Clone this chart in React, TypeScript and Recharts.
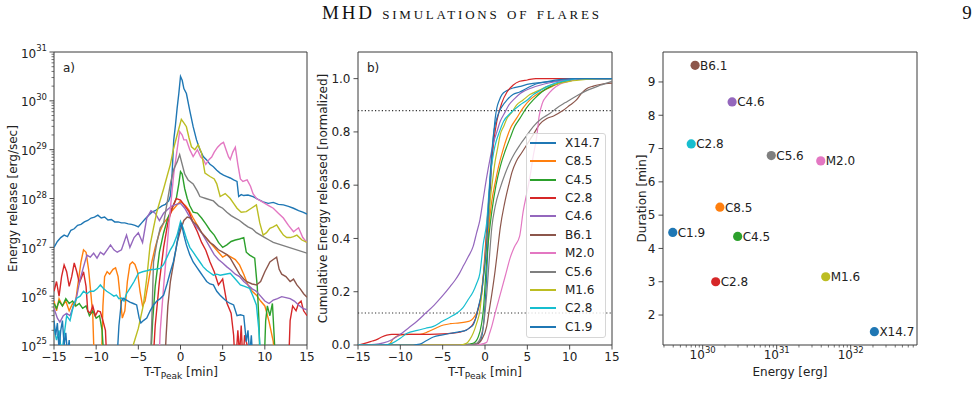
import React from 'react';
import {
  LineChart, Line, XAxis, YAxis, ReferenceArea, ReferenceLine, Legend,
  ScatterChart, Scatter,
} from 'recharts';

const FONT = '"DejaVu Sans", Verdana, sans-serif';
const AXIS = '#3a3a3a';
const TXT = '#222222';

// ---------- shared series identity ----------
const flareNames = ['X14.7', 'C8.5', 'C4.5', 'C2.8', 'C4.6', 'B6.1', 'M2.0', 'C5.6', 'M1.6', 'C2.8', 'C1.9'];
const palette = ['#1f77b4', '#ff7f0e', '#2ca02c', '#d62728', '#9467bd', '#8c564b', '#e377c2', '#7f7f7f', '#bcbd22', '#17becf', '#1f77b4'];

// ---------- panel a: energy release, [T-Tpeak min, log10(erg/s)] ----------
const releaseX147 = [[-15,27.0],[-14.6,27.12],[-14.2,27.2],[-13.8,27.25],[-13.4,27.22],[-13,27.35],[-12.6,27.38],[-12.2,27.45],[-11.8,27.47],[-11.4,27.52],[-11,27.55],[-10.6,27.6],[-10.2,27.62],[-9.8,27.66],[-9.4,27.6],[-9,27.62],[-8.6,27.56],[-8.2,27.57],[-7.8,27.52],[-7.4,27.52],[-7,27.5],[-6.6,27.5],[-6.2,27.48],[-5.8,27.47],[-5.4,27.45],[-5,27.42],[-4.6,27.5],[-4.2,27.58],[-3.8,27.65],[-3.4,27.72],[-3,27.75],[-2.6,27.8],[-2.2,27.85],[-1.8,27.88],[-1.4,27.95],[-1.2,28.05],[-1,28.5],[-0.8,29.2],[-0.6,29.5],[-0.4,29.85],[-0.2,30.15],[0,30.5],[0.2,30.42],[0.4,30.25],[0.7,30.15],[1.1,29.8],[1.5,29.47],[1.9,29.2],[2.3,29.0],[2.7,28.86],[3.1,28.79],[3.5,28.7],[3.9,28.65],[4.3,28.58],[4.7,28.52],[5.1,28.48],[5.5,28.45],[5.9,28.42],[6.3,28.38],[6.7,28.35],[6.9,28.04],[7.2,28.08],[7.5,28.06],[8,28.07],[8.6,28.04],[9.2,27.98],[9.8,27.93],[10.4,27.9],[11,27.92],[11.6,27.88],[12.2,27.87],[12.8,27.84],[13.4,27.8],[14,27.75],[14.5,27.72],[15,27.68]];
const releaseC85 = [[-15,25.9],[-14.7,25.7],[-14.4,25.95],[-14,25.8],[-13.6,25.9],[-13.2,25.7],[-12.8,25.85],[-12.5,25.8],[-12.2,26.2],[-11.8,26.7],[-11.5,26.95],[-11.2,26.9],[-10.9,26.55],[-10.6,26.0],[-10.4,25.6],[-10.2,24.5],[-9.4,24.5],[-9.2,25.8],[-9,26.4],[-8.7,26.5],[-8.4,26.45],[-8,26.55],[-7.7,26.58],[-7.4,26.4],[-7.1,25.9],[-6.9,25.55],[-6.6,25.7],[-6.3,26.3],[-6,26.65],[-5.7,26.7],[-5.4,26.65],[-5.1,26.5],[-4.8,26.1],[-4.5,25.8],[-4.2,25.9],[-3.8,26.3],[-3.4,26.7],[-3,27.0],[-2.5,27.3],[-2,27.5],[-1.5,27.6],[-1,27.75],[-0.5,27.85],[0,27.95],[0.3,27.9],[0.6,27.85],[1,27.76],[1.5,27.6],[2,27.45],[2.5,27.3],[3,27.2],[3.5,27.1],[4,27.0],[4.5,26.9],[5,26.8],[5.5,26.85],[6,26.8],[6.5,26.75],[7,26.64],[7.5,26.45],[8,26.23],[8.5,26.1],[9,26.02],[9.5,25.9],[10,25.8],[10.5,25.48],[11,25.07],[11.3,24.5]];
const releaseC45 = [[-15,25.85],[-14.7,25.75],[-14.4,25.9],[-14,25.8],[-13.6,25.95],[-13.2,25.85],[-12.8,25.9],[-12.4,25.8],[-12,25.85],[-11.6,25.75],[-11.2,25.8],[-10.8,25.6],[-10.4,25.7],[-10,25.55],[-9.6,25.6],[-9.3,25.3],[-9,24.5],[-3.6,24.5],[-3.3,25.5],[-3,26.2],[-2.5,26.9],[-2,27.3],[-1.5,27.6],[-1,27.8],[-0.5,28.0],[-0.2,28.3],[0,28.55],[0.2,28.5],[0.5,28.2],[0.8,28.0],[1.1,27.85],[1.5,27.72],[2,27.7],[2.5,27.6],[3,27.48],[3.5,27.35],[4,27.25],[4.5,27.1],[5,27.0],[5.5,27.05],[6,27.12],[6.5,27.15],[7,27.17],[7.5,27.2],[7.8,26.9],[8.2,26.84],[8.8,26.78],[9.1,26.2],[9.3,25.5],[9.45,24.5],[9.9,24.5],[10.1,25.5],[10.3,25.8],[10.6,25.6],[10.9,25.85],[11.1,25.2],[11.3,24.5]];
const releaseC28a = [[-15,26.1],[-14.7,26.3],[-14.4,26.0],[-14.1,26.4],[-13.8,26.64],[-13.5,26.5],[-13.2,26.2],[-12.9,26.4],[-12.6,26.68],[-12.3,26.5],[-12,26.27],[-11.7,26.4],[-11.5,26.5],[-11.2,26.2],[-11,25.7],[-10.7,25.65],[-10.4,25.8],[-10.1,25.6],[-9.8,25.7],[-9.5,25.68],[-9.2,25.5],[-8.9,25.3],[-8.7,24.5],[-3.3,24.5],[-3,25.4],[-2.5,26.3],[-2,27.0],[-1.5,27.5],[-1,27.8],[-0.5,28.0],[0,27.97],[0.5,27.85],[1,27.73],[1.5,27.5],[2,27.32],[2.5,27.1],[3,26.94],[3.5,26.7],[4,26.5],[4.5,26.23],[5,26.35],[5.5,25.86],[6,25.65],[6.3,25.2],[6.5,24.5],[6.8,25.3],[7,24.8],[7.2,25.4],[7.4,24.6],[7.6,25.2],[7.9,25.0],[8.1,24.5],[12.8,24.5],[13,25.5],[13.3,25.8],[13.7,25.7],[14,25.85],[14.3,25.9],[14.6,25.7],[15,25.6]];
const releaseC46 = [[-15,25.75],[-14.6,25.55],[-14.3,25.47],[-13.9,25.6],[-13.5,25.65],[-13.1,25.6],[-12.7,25.8],[-12.3,26.0],[-11.9,26.35],[-11.5,26.6],[-11.1,26.84],[-10.7,26.8],[-10.3,26.88],[-9.9,26.78],[-9.5,26.9],[-9.1,26.85],[-8.7,26.95],[-8.3,27.05],[-7.9,26.95],[-7.5,26.9],[-7,26.95],[-6.4,27.25],[-6,27.0],[-5.5,27.2],[-5,27.3],[-4.5,27.1],[-4,27.6],[-3.5,27.75],[-3,27.7],[-2.5,27.55],[-2,27.7],[-1.5,27.78],[-1,27.85],[-0.5,27.88],[0,27.9],[0.5,27.8],[1,27.65],[1.5,27.5],[2,27.4],[2.5,27.3],[3,27.15],[3.5,27.0],[4,26.85],[4.5,26.75],[5,26.68],[5.5,26.6],[6,26.53],[6.5,26.45],[7,26.4],[7.5,26.3],[8,26.23],[8.5,26.15],[9,26.1],[9.5,26.0],[10,25.9],[10.5,25.85],[11,25.92],[11.5,25.95],[12,25.99],[12.5,25.97],[13,25.95],[13.5,25.9],[14,25.82],[14.5,25.75],[15,25.72]];
const releaseB61 = [[-1.9,24.5],[-1.7,25.2],[-1.5,25.8],[-1.2,26.3],[-1,26.5],[-0.7,26.8],[-0.4,27.1],[0,27.35],[0.4,27.55],[0.8,27.62],[1.2,27.6],[1.5,27.52],[2,27.45],[2.5,27.3],[3,27.2],[3.5,27.1],[3.9,27.05],[4.5,26.95],[5,26.9],[5.5,26.85],[5.9,26.78],[6.5,26.6],[7,26.45],[7.5,26.35],[7.8,26.3],[8.5,26.25],[9,26.23],[9.5,26.3],[10,26.5],[10.6,26.7],[11,26.75],[11.4,26.8],[11.7,26.55],[12,26.45],[12.5,26.4],[13,26.3],[13.4,26.35],[13.8,26.23],[14.2,26.15],[14.6,26.05],[15,25.98]];
const releaseM20 = [[-2.6,24.5],[-2.4,25.3],[-2.0,26.2],[-1.6,27.0],[-1.2,27.8],[-0.8,28.5],[-0.4,29.0],[-0.1,29.37],[0.2,29.3],[0.4,29.2],[0.7,29.2],[1.1,29.0],[1.5,28.86],[2.0,29.0],[2.4,28.85],[2.7,28.8],[3.0,28.7],[3.4,28.8],[3.7,28.85],[4.0,28.95],[4.4,29.05],[4.8,29.12],[5.1,29.15],[5.4,29.0],[5.7,28.85],[5.9,28.8],[6.2,28.95],[6.5,29.05],[6.8,28.7],[7.1,28.4],[7.4,28.35],[7.9,28.38],[8.3,28.25],[8.6,28.1],[9.0,28.0],[9.5,27.95],[10.0,27.9],[10.5,27.85],[11.0,27.8],[11.6,27.7],[12.2,27.6],[12.8,27.45],[13.4,27.32],[14.0,27.4],[14.5,27.2],[15,27.1]];
const releaseC56 = [[-3.6,24.5],[-3.4,25.5],[-3.2,26.7],[-2.8,27.1],[-2.4,27.4],[-2,27.5],[-1.6,27.9],[-1.2,28.3],[-0.8,28.6],[-0.4,28.75],[-0.1,28.9],[0.2,28.7],[0.5,28.5],[0.9,28.38],[1.5,28.3],[2.0,28.15],[2.3,28.04],[3,28.0],[3.9,27.95],[4.5,27.85],[5,27.8],[5.5,27.72],[6,27.65],[6.5,27.6],[7,27.55],[7.5,27.48],[8,27.42],[8.5,27.38],[9,27.3],[9.5,27.25],[10,27.2],[10.5,27.15],[11,27.1],[15,26.88]];
const releaseM16 = [[-5.8,24.5],[-5.6,25.0],[-5.0,25.34],[-4.4,25.82],[-4.0,26.37],[-3.6,27.05],[-3.2,27.4],[-2.8,27.73],[-2.4,27.97],[-2.0,28.2],[-1.6,28.45],[-1.2,28.7],[-0.85,29.0],[-0.4,29.3],[0.1,29.62],[0.4,29.55],[0.7,29.47],[1.0,29.25],[1.3,29.06],[1.7,29.0],[2.1,29.1],[2.5,28.93],[2.9,28.52],[3.5,28.45],[4.0,28.4],[4.3,28.3],[4.7,28.04],[5.3,28.1],[5.9,28.0],[6.3,27.9],[6.7,27.8],[7.2,27.72],[7.8,27.73],[8.4,27.8],[9.0,27.87],[9.4,27.5],[9.8,27.25],[10.2,27.3],[10.6,27.39],[11.0,27.42],[11.4,27.46],[11.8,27.35],[12.2,27.25],[12.6,27.2],[13.0,27.2],[13.4,27.22],[13.8,27.25],[14.4,27.15],[15,27.1]];
const releaseC28b = [[-15,25.35],[-14.7,25.1],[-14.4,25.3],[-14.1,24.8],[-13.8,25.2],[-13.5,25.6],[-13.1,25.5],[-12.7,25.8],[-12.3,25.96],[-11.9,26.0],[-11.5,26.1],[-11.1,26.05],[-10.7,26.1],[-10.3,26.1],[-9.9,26.15],[-9.5,26.23],[-9.1,26.15],[-8.75,26.1],[-8.3,26.05],[-7.9,26.0],[-7.6,26.02],[-7.3,25.95],[-7,25.96],[-6.7,25.9],[-6.4,26.05],[-6,26.16],[-5.5,26.3],[-5,26.47],[-4.5,26.5],[-4,26.52],[-3.6,26.54],[-3,26.55],[-2.4,26.57],[-2,26.65],[-1.6,26.8],[-1.2,26.95],[-0.85,27.05],[-0.4,27.25],[0,27.53],[0.3,27.4],[0.7,27.18],[1.1,27.0],[1.5,26.9],[1.9,26.8],[2.3,26.7],[2.7,26.6],[3.1,26.53],[3.5,26.48],[3.9,26.43],[4.3,26.45],[4.7,26.43],[5.3,26.45],[5.9,26.47],[6.5,26.35],[7.1,26.23],[7.6,26.2],[8.2,26.16],[8.6,26.0],[9.0,25.82],[9.3,25.3],[9.6,24.5]];
const releaseC19 = [[-15,25.5],[-14.8,25.2],[-14.6,25.45],[-14.4,24.9],[-14.2,25.3],[-14.0,25.5],[-13.8,25.0],[-13.6,25.25],[-13.4,24.8],[-13.2,25.1],[-13.0,24.5],[-7.6,24.5],[-7.3,25.4],[-7.0,25.9],[-6.8,25.96],[-6.4,25.92],[-6.0,25.88],[-5.6,25.85],[-5.2,25.82],[-4.9,25.55],[-4.7,25.45],[-4.4,25.5],[-4.0,25.55],[-3.6,25.7],[-3.2,25.82],[-2.8,25.9],[-2.4,25.95],[-2.0,26.02],[-1.6,26.25],[-1.2,26.5],[-0.85,26.7],[-0.5,27.0],[-0.2,27.3],[0.1,27.5],[0.4,27.25],[0.7,27.05],[1.1,26.85],[1.5,26.7],[1.9,26.6],[2.3,26.5],[2.7,26.4],[3.1,26.3],[3.5,26.25],[3.9,26.23],[4.3,26.1],[4.7,26.02],[5.1,25.95],[5.5,25.89],[5.9,25.85],[6.3,25.82],[6.7,25.6],[7.1,25.62],[7.5,25.6],[7.8,25.07],[8.0,25.3],[8.2,24.8],[8.4,25.2],[8.6,24.6],[8.8,25.0],[9.0,24.5]];

// ---------- panel b: cumulative normalized energy, [T-Tpeak min, fraction] ----------
const cumX147 = [[-15,0],[-2,0],[-1,0.003],[-0.5,0.02],[-0.2,0.07],[0,0.15],[0.2,0.26],[0.4,0.42],[0.6,0.57],[0.8,0.69],[1.0,0.78],[1.2,0.85],[1.4,0.89],[1.7,0.92],[2,0.94],[2.6,0.955],[3.3,0.965],[4,0.97],[5.3,0.98],[6.5,0.985],[8,0.99],[10,0.997],[12,1.0],[15,1.0]];
const cumC85 = [[-15,0],[-11.6,0],[-11.2,0.006],[-10.8,0.025],[-10,0.037],[-9,0.04],[-7.7,0.04],[-6.7,0.05],[-5.7,0.065],[-4.9,0.075],[-4.1,0.08],[-3,0.083],[-2.2,0.087],[-1.8,0.09],[-1.4,0.1],[-1,0.12],[-0.6,0.16],[-0.2,0.26],[0.2,0.37],[0.5,0.46],[0.8,0.54],[1.2,0.61],[1.6,0.67],[2.1,0.73],[2.6,0.78],[3.1,0.82],[3.7,0.85],[4.5,0.89],[5.3,0.92],[6.1,0.94],[6.9,0.955],[7.9,0.97],[8.9,0.985],[10,0.993],[11,1.0],[15,1.0]];
const cumC45 = [[-15,0],[-3,0],[-2,0.003],[-1.4,0.006],[-0.8,0.03],[-0.4,0.08],[-0.2,0.13],[0.2,0.32],[0.5,0.42],[0.8,0.5],[1.3,0.6],[1.8,0.67],[2.4,0.73],[3,0.78],[3.5,0.82],[4.1,0.85],[4.9,0.89],[5.7,0.92],[6.7,0.95],[7.7,0.97],[9,0.985],[10.5,0.995],[12,1.0],[15,1.0]];
const cumC28a = [[-15,0],[-14,0.008],[-13.3,0.015],[-12.8,0.02],[-12.2,0.03],[-11.6,0.037],[-11,0.04],[-8,0.04],[-5,0.042],[-4,0.044],[-3,0.048],[-2.2,0.056],[-1.8,0.065],[-1.4,0.08],[-1,0.11],[-0.7,0.15],[-0.4,0.19],[-0.1,0.3],[0.2,0.44],[0.5,0.57],[0.8,0.69],[1.1,0.78],[1.4,0.84],[2,0.91],[2.6,0.95],[3.3,0.975],[4.1,0.99],[5,0.995],[6,1.0],[15,1.0]];
const cumC46 = [[-15,0],[-13,0.002],[-12,0.008],[-11,0.02],[-10,0.04],[-9,0.065],[-8,0.09],[-7,0.12],[-6,0.15],[-5,0.185],[-4.1,0.22],[-3.5,0.245],[-3,0.27],[-2.5,0.3],[-2,0.33],[-1.4,0.37],[-1,0.42],[-0.6,0.47],[-0.2,0.55],[0.2,0.63],[0.6,0.7],[1.0,0.76],[1.4,0.8],[1.8,0.84],[2.3,0.87],[2.8,0.9],[3.5,0.925],[4.2,0.945],[5.5,0.965],[7,0.98],[8.5,0.99],[10,0.997],[12,1.0],[15,1.0]];
const cumB61 = [[-15,0],[-2,0],[-1,0.003],[-0.4,0.02],[0.2,0.07],[0.5,0.13],[0.8,0.19],[1.2,0.28],[1.5,0.36],[1.8,0.44],[2.3,0.53],[2.8,0.6],[3.2,0.65],[3.7,0.69],[4.3,0.72],[4.9,0.75],[5.7,0.79],[6.5,0.83],[7.3,0.85],[8.1,0.86],[9.2,0.88],[10,0.9],[10.8,0.92],[11.4,0.945],[12,0.962],[12.8,0.972],[13.6,0.978],[15,0.983]];
const cumM20 = [[-15,0],[-1,0],[-0.2,0.005],[0.2,0.01],[0.5,0.04],[0.8,0.07],[1.2,0.12],[1.8,0.19],[2.4,0.26],[3,0.33],[3.5,0.37],[4.1,0.41],[4.5,0.5],[5,0.58],[5.3,0.63],[5.7,0.71],[6.1,0.78],[6.4,0.86],[6.8,0.91],[7.3,0.935],[8,0.96],[8.9,0.98],[10,0.99],[11,1.0],[15,1.0]];
const cumC56 = [[-15,0],[-2,0],[-1,0.006],[-0.5,0.03],[-0.2,0.07],[0.2,0.19],[0.5,0.32],[0.8,0.44],[1.2,0.52],[1.8,0.59],[2.4,0.645],[3,0.69],[3.5,0.72],[4.1,0.75],[4.9,0.785],[5.7,0.82],[6.7,0.85],[7.7,0.87],[8.5,0.89],[9.5,0.91],[10.8,0.935],[12,0.955],[13.6,0.975],[15,0.99]];
const cumM16 = [[-15,0],[-3,0],[-2.2,0.006],[-1.8,0.02],[-1.4,0.044],[-1,0.08],[-0.6,0.13],[-0.3,0.22],[0,0.32],[0.3,0.44],[0.6,0.54],[0.9,0.62],[1.2,0.69],[1.5,0.74],[1.8,0.79],[2.2,0.82],[2.6,0.85],[3.2,0.875],[3.7,0.9],[4.5,0.92],[5.3,0.94],[6.3,0.955],[7.3,0.97],[8.5,0.98],[10,0.99],[12,0.997],[13.5,1.0],[15,1.0]];
const cumC28b = [[-15,0],[-12,0],[-11,0.006],[-10,0.025],[-9.2,0.044],[-8,0.055],[-7,0.063],[-6.1,0.07],[-5,0.09],[-4.1,0.105],[-3.3,0.12],[-2.6,0.14],[-2,0.17],[-1.4,0.2],[-1,0.23],[-0.6,0.27],[-0.2,0.38],[0.2,0.46],[0.6,0.63],[0.9,0.7],[1.2,0.75],[1.7,0.8],[2.2,0.84],[3,0.87],[4.1,0.9],[5,0.92],[5.7,0.94],[6.5,0.955],[7.3,0.97],[8.5,0.985],[10,0.995],[11,1.0],[15,1.0]];
const cumC19 = [[-15,0],[-8.5,0],[-7.7,0.003],[-7,0.015],[-6.1,0.03],[-5,0.038],[-4.1,0.044],[-3,0.05],[-2.2,0.056],[-1.8,0.065],[-1.4,0.075],[-1.1,0.1],[-0.8,0.14],[-0.4,0.2],[-0.2,0.25],[0.2,0.38],[0.4,0.5],[0.6,0.63],[0.8,0.72],[1,0.79],[1.3,0.84],[1.6,0.87],[2,0.895],[2.6,0.92],[3.3,0.94],[4.1,0.95],[5,0.965],[6,0.98],[7.5,0.99],[9,0.997],[10.5,1.0],[15,1.0]];
const cumThresholds = [0.12, 0.88];

// ---------- panel c: energy vs duration ----------
const flareEnergy = [2.09e32, 1.71e30, 2.97e30, 1.5e30, 2.5e30, 7.9e29, 3.94e31, 8.45e30, 4.6e31, 7.0e29, 3.94e29];
const flareDuration = [1.5, 5.24, 4.36, 3.0, 8.4, 9.5, 6.63, 6.79, 3.15, 7.14, 4.48];

// ---------- axes ----------
const timeDomain = [-15, 15];
const timeTicks = [-15, -10, -5, 0, 5, 10, 15];
const releaseExponents = [25, 26, 27, 28, 29, 30, 31];
const cumDomain = [0, 1.1];
const cumTicks = [0, 0.2, 0.4, 0.6, 0.8, 1.0];
const energyDomain = [2.91e29, 7.87e32];
const energyExponents = [29, 30, 31, 32];
const durationDomain = [1.1, 9.9];
const durationTicks = [2, 3, 4, 5, 6, 7, 8, 9];
const logMultipliers = [1, 2, 3, 4, 5, 6, 7, 8, 9];

const releaseTicks = releaseExponents.flatMap((e, i) =>
  i === releaseExponents.length - 1 ? [Math.pow(10, e)] : logMultipliers.map((m) => m * Math.pow(10, e)));
const energyTicks = energyExponents
  .flatMap((e) => logMultipliers.map((m) => m * Math.pow(10, e)))
  .filter((v) => v >= energyDomain[0] && v <= energyDomain[1]);

const releaseSeries = [releaseX147, releaseC85, releaseC45, releaseC28a, releaseC46, releaseB61, releaseM20, releaseC56, releaseM16, releaseC28b, releaseC19];
const cumSeries = [cumX147, cumC85, cumC45, cumC28a, cumC46, cumB61, cumM20, cumC56, cumM16, cumC28b, cumC19];
const releaseData = releaseSeries.map((s) => s.map(([t, e]) => ({ t, v: Math.pow(10, e) })));
const cumData = cumSeries.map((s) => s.map(([t, f]) => ({ t, v: f })));
const scatterData = flareNames.map((name, i) => ({ name, energy: flareEnergy[i], duration: flareDuration[i], color: palette[i] }));

// ---------- tick renderers ----------
const fmtTime = (v: number) => (v < 0 ? '\u2212' + String(Math.abs(v)) : String(v));
const fmtFrac = (v: number) => v.toFixed(1);
const fmtInt = (v: number) => String(v);

const isMajorLog = (v: number) => Math.abs(Math.log10(v) - Math.round(Math.log10(v))) < 1e-6;

function BottomTick(props: any) {
  const { x, y, payload, fmt } = props;
  return (
    <g>
      <line x1={x} x2={x} y1={y} y2={y + 4.5} stroke={AXIS} strokeWidth={0.9} />
      <text x={x} y={y + 15.5} textAnchor="middle" fontSize={12} fontFamily={FONT} fill={TXT}>{fmt(payload.value)}</text>
    </g>
  );
}
function LeftTick(props: any) {
  const { x, y, payload, fmt } = props;
  return (
    <g>
      <line x1={x} x2={x - 4.5} y1={y} y2={y} stroke={AXIS} strokeWidth={0.9} />
      <text x={x - 7.5} y={y + 4.3} textAnchor="end" fontSize={12} fontFamily={FONT} fill={TXT}>{fmt(payload.value)}</text>
    </g>
  );
}
function LogLeftTick(props: any) {
  const { x, y, payload } = props;
  const major = isMajorLog(payload.value);
  const exp = Math.round(Math.log10(payload.value));
  return (
    <g>
      <line x1={x} x2={x - (major ? 4.5 : 2.5)} y1={y} y2={y} stroke={AXIS} strokeWidth={major ? 0.9 : 0.7} />
      {major && (
        <text x={x - 7} y={y + 5.5} textAnchor="end" fontSize={12} fontFamily={FONT} fill={TXT}>
          10<tspan dy={-6.5} fontSize={8.5}>{exp}</tspan>
        </text>
      )}
    </g>
  );
}
function LogBottomTick(props: any) {
  const { x, y, payload } = props;
  const major = isMajorLog(payload.value);
  const exp = Math.round(Math.log10(payload.value));
  return (
    <g>
      <line x1={x} x2={x} y1={y} y2={y + (major ? 4.5 : 2.5)} stroke={AXIS} strokeWidth={major ? 0.9 : 0.7} />
      {major && (
        <text x={x} y={y + 14} textAnchor="middle" fontSize={12} fontFamily={FONT} fill={TXT}>
          10<tspan dy={-6.5} fontSize={8.5}>{exp}</tspan>
        </text>
      )}
    </g>
  );
}

function CumLegend() {
  return (
    <div style={{ position: 'relative', width: 80, height: 205, boxSizing: 'border-box', border: '1px solid #d6d6d6', borderRadius: 3, background: 'rgba(255,255,255,0.8)', fontFamily: FONT, fontSize: 12, color: TXT }}>
      {flareNames.map((n, i) => (
        <div key={i} style={{ position: 'absolute', left: 0, top: 8.7 + 18.4 * i - 9, width: 78, height: 18 }}>
          <div style={{ position: 'absolute', left: 3, top: 8, width: 26, height: 2, background: palette[i] }} />
          <span style={{ position: 'absolute', left: 38, top: 1, lineHeight: '16px', whiteSpace: 'nowrap' }}>{n}</span>
        </div>
      ))}
    </div>
  );
}

function FlareDot(props: any) {
  const { cx, cy, payload } = props;
  return (
    <g>
      <circle cx={cx} cy={cy} r={4.6} fill={payload.color} />
      <text x={cx + 5} y={cy + 4.4} fontSize={12} fontFamily={FONT} fill={TXT}>{payload.name}</text>
    </g>
  );
}

const noLine = { axisLine: false, tickLine: false, tickSize: 0, tickMargin: 0, interval: 0 as const };

export default function App() {
  return (
    <div style={{ position: 'absolute', left: 0, top: 0, width: 978, height: 403, background: '#fff', overflow: 'hidden' }}>
      {/* panel a */}
      <div style={{ position: 'absolute', left: 0, top: 0 }}>
        <LineChart width={320} height={403} margin={{ top: 52, right: 13, bottom: 0, left: 0 }}>
          <XAxis type="number" dataKey="t" domain={timeDomain} ticks={timeTicks} height={58} {...noLine}
            tick={(p: any) => <BottomTick {...p} fmt={fmtTime} />} allowDataOverflow />
          <YAxis type="number" scale="log" domain={[1e25, 1e31]} ticks={releaseTicks} width={54} {...noLine}
            tick={(p: any) => <LogLeftTick {...p} />} allowDataOverflow />
          {releaseData.map((d, i) => (
            <Line key={i} data={d} dataKey="v" name={flareNames[i]} type="linear" stroke={palette[i]} strokeWidth={1.4}
              dot={false} activeDot={false} isAnimationActive={false} />
          ))}
          <ReferenceArea x1={-15} x2={15} y1={1e25} y2={1e31} fill="none" stroke={AXIS} strokeWidth={1} ifOverflow="visible" />
        </LineChart>
      </div>

      {/* panel b */}
      <div style={{ position: 'absolute', left: 320, top: 0 }}>
        <LineChart width={320} height={403} margin={{ top: 52, right: 28, bottom: 0, left: 0 }}>
          <XAxis type="number" dataKey="t" domain={timeDomain} ticks={timeTicks} height={58} {...noLine}
            tick={(p: any) => <BottomTick {...p} fmt={fmtTime} />} allowDataOverflow />
          <YAxis type="number" domain={cumDomain} ticks={cumTicks} width={38} {...noLine}
            tick={(p: any) => <LeftTick {...p} fmt={fmtFrac} />} allowDataOverflow />
          {cumThresholds.map((v) => (
            <ReferenceLine key={v} y={v} stroke="#333" strokeWidth={1.1} strokeDasharray="1.2 2.2" />
          ))}
          {cumData.map((d, i) => (
            <Line key={i} data={d} dataKey="v" name={flareNames[i]} type="monotone" stroke={palette[i]} strokeWidth={1.2}
              dot={false} activeDot={false} isAnimationActive={false} />
          ))}
          <ReferenceArea x1={-15} x2={15} y1={0} y2={1.1} fill="none" stroke={AXIS} strokeWidth={1} ifOverflow="visible" />
          <Legend layout="vertical" align="center" verticalAlign="middle" content={() => <CumLegend />}
            wrapperStyle={{ left: 206, top: 133, width: 80, height: 205 }} />
        </LineChart>
      </div>

      {/* panel c */}
      <div style={{ position: 'absolute', left: 640, top: 0 }}>
        <ScatterChart width={338} height={403} margin={{ top: 52, right: 61, bottom: 0, left: 0 }}>
          <XAxis type="number" dataKey="energy" scale="log" domain={energyDomain} ticks={energyTicks} height={58} {...noLine}
            tick={(p: any) => <LogBottomTick {...p} />} allowDataOverflow />
          <YAxis type="number" dataKey="duration" domain={durationDomain} ticks={durationTicks} width={23} {...noLine}
            tick={(p: any) => <LeftTick {...p} fmt={fmtInt} />} allowDataOverflow />
          <ReferenceArea x1={energyDomain[0]} x2={energyDomain[1]} y1={durationDomain[0]} y2={durationDomain[1]} fill="none" stroke={AXIS} strokeWidth={1} ifOverflow="visible" />
          <Scatter data={scatterData} dataKey="duration" shape={(p: any) => <FlareDot {...p} />} isAnimationActive={false} />
        </ScatterChart>
      </div>

      {/* titles and axis labels */}
      <svg width={978} height={403} style={{ position: 'absolute', left: 0, top: 0, pointerEvents: 'none' }}>
        <text x={322} y={19} fontFamily='"Liberation Serif", "DejaVu Serif", serif' fontSize={19} fill="#111"
          textLength={277} lengthAdjust="spacing" style={{ fontVariant: 'small-caps' }}>MHD simulations of flares</text>
        <text x={967} y={19} textAnchor="middle" fontFamily='"Liberation Serif", "DejaVu Serif", serif' fontSize={19} fill="#111">9</text>

        <text x={63} y={72} fontSize={12} fontFamily={FONT} fill={TXT}>a)</text>
        <text x={367} y={72} fontSize={12} fontFamily={FONT} fill={TXT}>b)</text>

        <text transform="translate(17,198.5) rotate(-90)" textAnchor="middle" fontSize={12} fontFamily={FONT} fill={TXT}>Energy release [erg/sec]</text>
        <text transform="translate(327,198.5) rotate(-90)" textAnchor="middle" fontSize={12} fontFamily={FONT} fill={TXT}>Cumulative Energy released [normalized]</text>
        <text transform="translate(646,198.5) rotate(-90)" textAnchor="middle" fontSize={12} fontFamily={FONT} fill={TXT}>Duration [min]</text>

        <text x={181} y={376} textAnchor="middle" fontSize={12} fontFamily={FONT} fill={TXT}>T-T<tspan fontSize={9} dy={2.5}>Peak</tspan><tspan dy={-2.5}> [min]</tspan></text>
        <text x={485} y={376} textAnchor="middle" fontSize={12} fontFamily={FONT} fill={TXT}>T-T<tspan fontSize={9} dy={2.5}>Peak</tspan><tspan dy={-2.5}> [min]</tspan></text>
        <text x={790} y={376} textAnchor="middle" fontSize={12} fontFamily={FONT} fill={TXT}>Energy [erg]</text>
      </svg>
    </div>
  );
}
